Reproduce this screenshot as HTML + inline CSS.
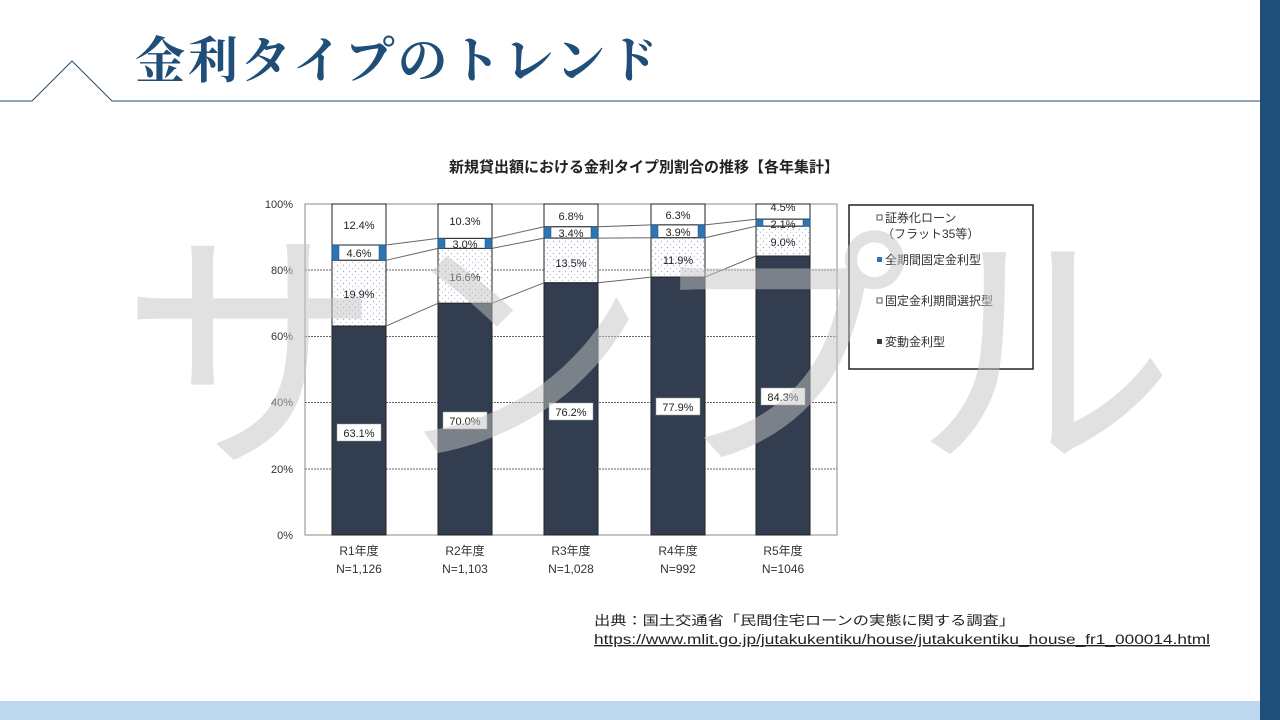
<!DOCTYPE html>
<html><head><meta charset="utf-8"><style>
html,body{margin:0;padding:0;width:1280px;height:720px;overflow:hidden;background:#fff;font-family:"Liberation Sans","Noto Sans CJK JP",sans-serif;}
</style></head><body>
<svg width="1280" height="720" viewBox="0 0 1280 720" xmlns="http://www.w3.org/2000/svg" style="position:absolute;left:0;top:0">
<defs>
<pattern id="dots" width="6" height="6" patternUnits="userSpaceOnUse"><rect width="6" height="6" fill="#fff"/><circle cx="1.5" cy="1.5" r="0.7" fill="#9fb3cc"/><circle cx="4.5" cy="4.5" r="0.7" fill="#c0cde0"/></pattern>
</defs>
<rect x="1260" y="0" width="20" height="720" fill="#1f4e79"/>
<rect x="0" y="701" width="1260" height="19" fill="#bdd7ee"/>
<polyline points="0,101 32,101 72,61 112,101 1260,101" fill="none" stroke="#1f4e79" stroke-width="1"/>
<text x="135" y="78" font-family="'Noto Serif CJK SC','Liberation Serif',serif" font-size="50" font-weight="bold" fill="#1f4e79" letter-spacing="3">金利タイプのトレンド</text>

<text x="644" y="172" font-size="15" font-weight="bold" fill="#222" text-anchor="middle">新規貸出額における金利タイプ別割合の推移【各年集計】</text>

<rect x="305" y="204" width="532" height="331" fill="#fff" stroke="#888" stroke-width="1"/>
<g stroke="#666" stroke-dasharray="2,1" stroke-width="1">
<line x1="305" y1="270" x2="837" y2="270"/><line x1="305" y1="336.5" x2="837" y2="336.5"/><line x1="305" y1="402.5" x2="837" y2="402.5"/><line x1="305" y1="469" x2="837" y2="469"/>
</g>
<g font-size="11" fill="#333" text-anchor="end">
<text x="293" y="208">100%</text><text x="293" y="274">80%</text><text x="293" y="340">60%</text><text x="293" y="406">40%</text><text x="293" y="473">20%</text><text x="293" y="539">0%</text>
</g>

<g stroke="#222" stroke-width="1">
<rect x="332" y="204" width="54" height="41" fill="#fff"/><rect x="332" y="245" width="54" height="15.3" fill="#fff"/><rect x="332" y="260.3" width="54" height="65.8" fill="url(#dots)"/><rect x="332" y="326.1" width="54" height="208.9" fill="#323e4f"/>
<rect x="438" y="204" width="54" height="34.4" fill="#fff"/><rect x="438" y="238.4" width="54" height="10" fill="#fff"/><rect x="438" y="248.4" width="54" height="54.9" fill="url(#dots)"/><rect x="438" y="303.3" width="54" height="231.7" fill="#323e4f"/>
<rect x="544" y="204" width="54" height="22.8" fill="#fff"/><rect x="544" y="226.8" width="54" height="11.3" fill="#fff"/><rect x="544" y="238.1" width="54" height="44.7" fill="url(#dots)"/><rect x="544" y="282.8" width="54" height="252.2" fill="#323e4f"/>
<rect x="651" y="204" width="54" height="20.9" fill="#fff"/><rect x="651" y="224.9" width="54" height="12.9" fill="#fff"/><rect x="651" y="237.8" width="54" height="39.3" fill="url(#dots)"/><rect x="651" y="277.1" width="54" height="257.9" fill="#323e4f"/>
<rect x="756" y="204" width="54" height="15.2" fill="#fff"/><rect x="756" y="219.2" width="54" height="7" fill="#fff"/><rect x="756" y="226.2" width="54" height="29.8" fill="url(#dots)"/><rect x="756" y="256" width="54" height="279" fill="#323e4f"/>
</g>
<g fill="#2e75b6" stroke="#1f4e79" stroke-width="0.5">
<rect x="332" y="245" width="7" height="15.3"/><rect x="379" y="245" width="7" height="15.3"/>
<rect x="438" y="238.4" width="7" height="10"/><rect x="485" y="238.4" width="7" height="10"/>
<rect x="544" y="226.8" width="7" height="11.3"/><rect x="591" y="226.8" width="7" height="11.3"/>
<rect x="651" y="224.9" width="7" height="12.9"/><rect x="698" y="224.9" width="7" height="12.9"/>
<rect x="756" y="219.2" width="7" height="7"/><rect x="803" y="219.2" width="7" height="7"/>
</g>
<g stroke="#666" stroke-width="1" fill="none">
<polyline points="386,245 438,238.4"/><polyline points="386,260.3 438,248.4"/><polyline points="386,326.1 438,303.3"/>
<polyline points="492,238.4 544,226.8"/><polyline points="492,248.4 544,238.1"/><polyline points="492,303.3 544,282.8"/>
<polyline points="598,226.8 651,224.9"/><polyline points="598,238.1 651,237.8"/><polyline points="598,282.8 651,277.1"/>
<polyline points="705,224.9 756,219.2"/><polyline points="705,237.8 756,226.2"/><polyline points="705,277.1 756,256"/>
</g>
<g font-size="11" fill="#222" text-anchor="middle">
<text x="359" y="229">12.4%</text><text x="359" y="257">4.6%</text><text x="359" y="298">19.9%</text>
<text x="465" y="225">10.3%</text><text x="465" y="248">3.0%</text><text x="465" y="281">16.6%</text>
<text x="571" y="220">6.8%</text><text x="571" y="237">3.4%</text><text x="571" y="267">13.5%</text>
<text x="678" y="219">6.3%</text><text x="678" y="236">3.9%</text><text x="678" y="264">11.9%</text>
<text x="783" y="211">4.5%</text><text x="783" y="228">2.1%</text><text x="783" y="246">9.0%</text>
</g>
<g fill="#fff" stroke="#999" stroke-width="0.5">
<rect x="337" y="424" width="44" height="17"/><rect x="443" y="412" width="44" height="17"/><rect x="549" y="403" width="44" height="17"/><rect x="656" y="398" width="44" height="17"/><rect x="761" y="388" width="44" height="17"/>
</g>
<g font-size="11" fill="#222" text-anchor="middle">
<text x="359" y="437">63.1%</text><text x="465" y="425">70.0%</text><text x="571" y="416">76.2%</text><text x="678" y="411">77.9%</text><text x="783" y="401">84.3%</text>
</g>
<g font-size="12" fill="#333" text-anchor="middle">
<text x="359" y="555">R1年度</text><text x="359" y="573">N=1,126</text>
<text x="465" y="555">R2年度</text><text x="465" y="573">N=1,103</text>
<text x="571" y="555">R3年度</text><text x="571" y="573">N=1,028</text>
<text x="678" y="555">R4年度</text><text x="678" y="573">N=992</text>
<text x="783" y="555">R5年度</text><text x="783" y="573">N=1046</text>
</g>

<rect x="849" y="205" width="184" height="164" fill="#fff" stroke="#222" stroke-width="1.5"/>
<g font-size="12" fill="#333">
<rect x="877" y="215" width="5" height="5" fill="#fff" stroke="#555"/><text x="885" y="222">証券化ローン</text>
<text x="882" y="238">（フラット35等）</text>
<rect x="877" y="257" width="5" height="5" fill="#2e75b6"/><text x="885" y="264">全期間固定金利型</text>
<rect x="877" y="298" width="5" height="5" fill="#fff" stroke="#555"/><text x="885" y="305">固定金利期間選択型</text>
<rect x="877" y="339" width="5" height="5" fill="#323e4f"/><text x="885" y="346">変動金利型</text>
</g>

<text x="120" y="448" font-size="262" font-weight="normal" fill="#c4c4c4" opacity="0.5" letter-spacing="5" font-family="'Noto Sans CJK JP',sans-serif">サンプル</text>

<text x="594" y="625" font-size="13" fill="#222" textLength="421" lengthAdjust="spacingAndGlyphs">出典：国土交通省「民間住宅ローンの実態に関する調査」</text>
<text x="594" y="644" font-size="13.5" fill="#222" text-decoration="underline" textLength="616" lengthAdjust="spacingAndGlyphs">https://www.mlit.go.jp/jutakukentiku/house/jutakukentiku_house_fr1_000014.html</text>
</svg>
</body></html>
